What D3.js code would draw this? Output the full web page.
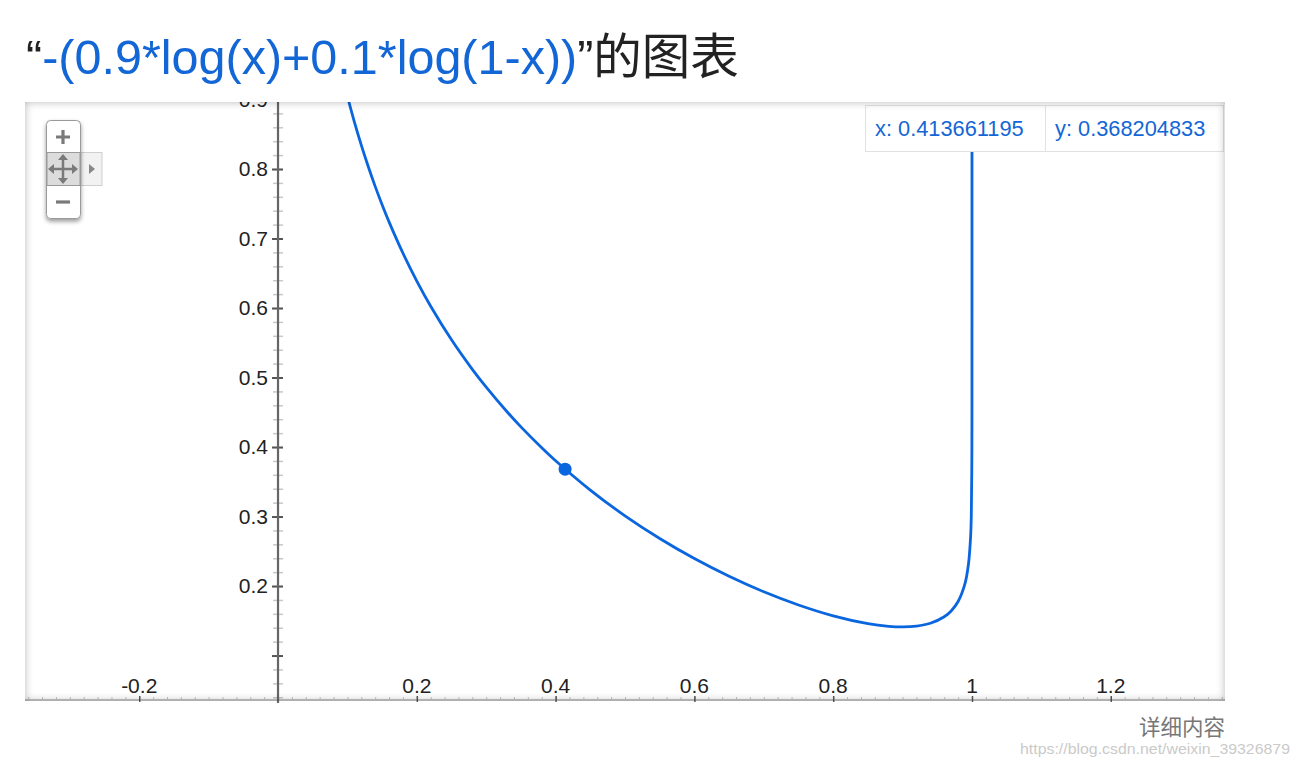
<!DOCTYPE html>
<html>
<head>
<meta charset="utf-8">
<script src="https://cdn.jsdelivr.net/npm/d3@7/dist/d3.min.js"></script>
<style>
  html, body { margin: 0; padding: 0; background: #fff; }
  #wrap { position: relative; width: 1300px; height: 764px; overflow: hidden; }
  svg { position: absolute; left: 0; top: 0; }
  #shade { position: absolute; left: 25px; top: 102px; width: 1200px; height: 599px;
           box-shadow: inset 0 0 9px rgba(0,0,0,0.28); pointer-events: none; z-index: 3; }
  #tip { position: absolute; left: 865px; top: 105px; height: 45px; display: flex;
         background: #fff; border: 1px solid #e2e2e2; z-index: 2;
         font-family: 'Liberation Sans', Arial, sans-serif; font-size: 21.8px; color: #1366d6; }
  #tip div { line-height: 45px; padding: 0 0 0 9px; box-sizing: border-box; white-space: nowrap; }
  #tip div + div { border-left: 1px solid #e2e2e2; }
</style>
</head>
<body>
<div id="wrap"><svg id="chart" width="1300" height="764"></svg><div id="tip"></div><div id="shade"></div></div>
<script>
// ---- data ----
const curveX = [0.10, 0.11, 0.12, 0.13, 0.14, 0.15, 0.16, 0.18, 0.20, 0.22, 0.25, 0.28, 0.30, 0.33, 0.35, 0.38, 0.40,
                0.45, 0.50, 0.55, 0.60, 0.65, 0.70, 0.75, 0.80, 0.85, 0.88, 0.90, 0.92, 0.94, 0.96, 0.97, 0.98, 0.99,
                0.995, 0.998, 0.999, 0.9999, 0.99999, 0.999999, 0.9999999, 0.99999999, 0.9999999975];
const curveY = [0.9046, 0.8678, 0.8343, 0.8035, 0.7750, 0.7486, 0.7239, 0.6789, 0.6388, 0.6026, 0.5543, 0.5118, 0.4861,
                0.4507, 0.4290, 0.3990, 0.3803, 0.3381, 0.3010, 0.2684, 0.2395, 0.2140, 0.1917, 0.1727, 0.1571, 0.1459,
                0.1421, 0.1412, 0.1423, 0.1464, 0.1558, 0.1642, 0.1778, 0.2039, 0.2321, 0.2707, 0.3004, 0.4000, 0.5000,
                0.6000, 0.7000, 0.8000, 0.8600];
const markerX = [0.413661195];
const markerY = [0.368204833];
const xTickValues = [-0.2, 0.2, 0.4, 0.6, 0.8, 1, 1.2];
const xTickLabels = ["-0.2", "0.2", "0.4", "0.6", "0.8", "1", "1.2"];
const yTickValues = [0.1, 0.2, 0.3, 0.4, 0.5, 0.6, 0.7, 0.8, 0.9];
const yTickLabels = ["", "0.2", "0.3", "0.4", "0.5", "0.6", "0.7", "0.8", "0.9"];
const titleParts = ["“", "-(0.9*log(x)+0.1*log(1-x))", "”的图表"];
const tooltipTexts = ["x: 0.413661195", "y: 0.368204833"];
const footerText = "详细内容";
const watermarkText = "https://blog.csdn.net/weixin_39326879";

// ---- layout ----
const plot = { left: 25, right: 1225, top: 102, bottom: 701 };
const xDomain = [-0.3646, 1.3646];
const yDomain = [0.0346, 0.8964];
const blue = "#0a66de";
const titleBlue = "#1366d6";
const fontLatin = "'Liberation Sans', Arial, sans-serif";
const fontCJK = "'Liberation Sans', 'Noto Sans CJK SC', sans-serif";

const svg = d3.select("#chart");
const x = d3.scaleLinear().domain(xDomain).range([plot.left, plot.right]);
const y = d3.scaleLinear().domain(yDomain).range([plot.bottom, plot.top]);

// title
const title = svg.append("text").attr("x", 26).attr("y", 74)
  .style("font-family", fontCJK).style("font-size", "48.5px").attr("fill", "#222");
title.append("tspan").text(titleParts[0]);
title.append("tspan").attr("fill", titleBlue).text(titleParts[1]);
title.append("tspan").text(titleParts[2]);

// clip
const defs = svg.append("defs");
defs.append("clipPath").attr("id", "plotclip").append("rect")
  .attr("x", plot.left).attr("y", plot.top)
  .attr("width", plot.right - plot.left).attr("height", plot.bottom - plot.top + 3);

svg.append("rect").attr("x", plot.left).attr("y", plot.top)
  .attr("width", plot.right - plot.left).attr("height", plot.bottom - plot.top).attr("fill", "#fff");

const g = svg.append("g").attr("clip-path", "url(#plotclip)");

// x axis (at bottom)
const xMinor = d3.range(-0.36, 1.37, 0.02).map(v => +v.toFixed(2));
g.append("line").attr("x1", plot.left).attr("x2", plot.right)
  .attr("y1", plot.bottom - 1).attr("y2", plot.bottom - 1)
  .attr("stroke", "#c8c8c8").attr("stroke-width", 2);
const xMinorAxis = d3.axisBottom(x).tickValues(xMinor).tickSize(4).tickFormat("");
g.append("g").attr("transform", `translate(0,${plot.bottom - 4})`).call(xMinorAxis)
  .call(a => a.select(".domain").remove())
  .call(a => a.selectAll("line").attr("stroke", "#c4c4c4"));
const xMajorAxis = d3.axisBottom(x).tickValues(xTickValues).tickSize(6).tickFormat("");
g.append("g").attr("transform", `translate(0,${plot.bottom - 5})`).call(xMajorAxis)
  .call(a => a.select(".domain").remove())
  .call(a => a.selectAll("line").attr("stroke", "#555").attr("stroke-width", 1.5));
g.append("g").selectAll("text").data(xTickValues).join("text")
  .attr("x", d => x(d)).attr("y", 693).attr("text-anchor", "middle")
  .style("font-family", fontLatin).style("font-size", "21px").attr("fill", "#222")
  .text((d, i) => xTickLabels[i]);

// y axis (at x = 0)
const yMinor = d3.range(0.04, 0.9, 0.02).map(v => +v.toFixed(2));
const yMinorAxis = d3.axisLeft(y).tickValues(yMinor).tickSize(10).tickFormat("");
g.append("g").attr("transform", `translate(${x(0) + 5},0)`).call(yMinorAxis)
  .call(a => a.select(".domain").remove())
  .call(a => a.selectAll("line").attr("stroke", "#c8c8c8").attr("stroke-width", 1.5));
const yMajorAxis = d3.axisLeft(y).tickValues(yTickValues).tickSize(11)
  .tickPadding(5).tickFormat((d, i) => yTickLabels[i]);
g.append("g").attr("transform", `translate(${x(0) + 5},0)`).call(yMajorAxis)
  .call(a => a.select(".domain").remove())
  .call(a => a.selectAll("line").attr("stroke", "#555").attr("stroke-width", 2))
  .call(a => a.selectAll("text").style("font-family", fontLatin).style("font-size", "21px")
    .attr("fill", "#222").attr("x", -15));
g.append("line").attr("x1", x(0)).attr("x2", x(0)).attr("y1", plot.top).attr("y2", plot.bottom + 2)
  .attr("stroke", "#666").attr("stroke-width", 2.2);

// curve
const pts = curveX.map((v, i) => [v, curveY[i]]);
g.append("path").datum(pts)
  .attr("d", d3.line().x(d => x(d[0])).y(d => y(d[1])).curve(d3.curveCatmullRom.alpha(0.5)))
  .attr("fill", "none").attr("stroke", blue).attr("stroke-width", 2.8);

// marker
g.selectAll("circle.m").data(markerX).join("circle").attr("class", "m")
  .attr("cx", d => x(d)).attr("cy", (d, i) => y(markerY[i])).attr("r", 6.5).attr("fill", blue);

// tooltip box (HTML, above the plot)
d3.select("#tip").selectAll("div").data(tooltipTexts).join("div")
  .style("width", (d, i) => i === 0 ? "179px" : "178px")
  .text(d => d);

// zoom controls
const zc = svg.append("g");
const f = defs.append("filter").attr("id", "zshadow").attr("x", "-30%").attr("y", "-30%")
  .attr("width", "160%").attr("height", "160%");
f.append("feDropShadow").attr("dx", 0).attr("dy", 2.5).attr("stdDeviation", 2)
  .attr("flood-color", "#000").attr("flood-opacity", 0.4);
zc.append("rect").attr("x", 81).attr("y", 152.5).attr("width", 21).attr("height", 33)
  .attr("fill", "#f2f2f2").attr("stroke", "#cfcfcf");
zc.append("path").attr("d", "M89,164 L95,169 L89,174 Z").attr("fill", "#888");
zc.append("rect").attr("x", 46.5).attr("y", 120.5).attr("width", 34).attr("height", 98).attr("rx", 4)
  .attr("fill", "#fff").attr("stroke", "#9a9a9a").attr("filter", "url(#zshadow)");
zc.append("rect").attr("x", 47).attr("y", 152.5).attr("width", 33).attr("height", 33)
  .attr("fill", "#dcdcdc").attr("stroke", "#9a9a9a");
zc.append("path").attr("d", "M56,137 H70 M63,130 V144").attr("stroke", "#7a7a7a").attr("stroke-width", 3.2);
zc.append("path").attr("d", "M56,202 H70").attr("stroke", "#7a7a7a").attr("stroke-width", 3.2);
zc.append("path").attr("d", "M51,169 H75 M63,157 V181").attr("stroke", "#7a7a7a").attr("stroke-width", 2.5);
zc.append("path").attr("d",
  "M63,154 L58,160 L68,160 Z M63,184 L58,178 L68,178 Z M48,169 L54,164 L54,174 Z M78,169 L72,164 L72,174 Z")
  .attr("fill", "#7a7a7a");

// footer
svg.append("text").attr("x", 1225).attr("y", 735).attr("text-anchor", "end")
  .style("font-family", "'Noto Sans CJK SC', sans-serif").style("font-size", "21.5px").attr("fill", "#777")
  .text(footerText);
svg.append("text").attr("x", 1290).attr("y", 754).attr("text-anchor", "end")
  .attr("textLength", 270).attr("lengthAdjust", "spacingAndGlyphs")
  .style("font-family", fontLatin).style("font-size", "15px").attr("fill", "#cacaca")
  .text(watermarkText);
</script>
</body>
</html>
